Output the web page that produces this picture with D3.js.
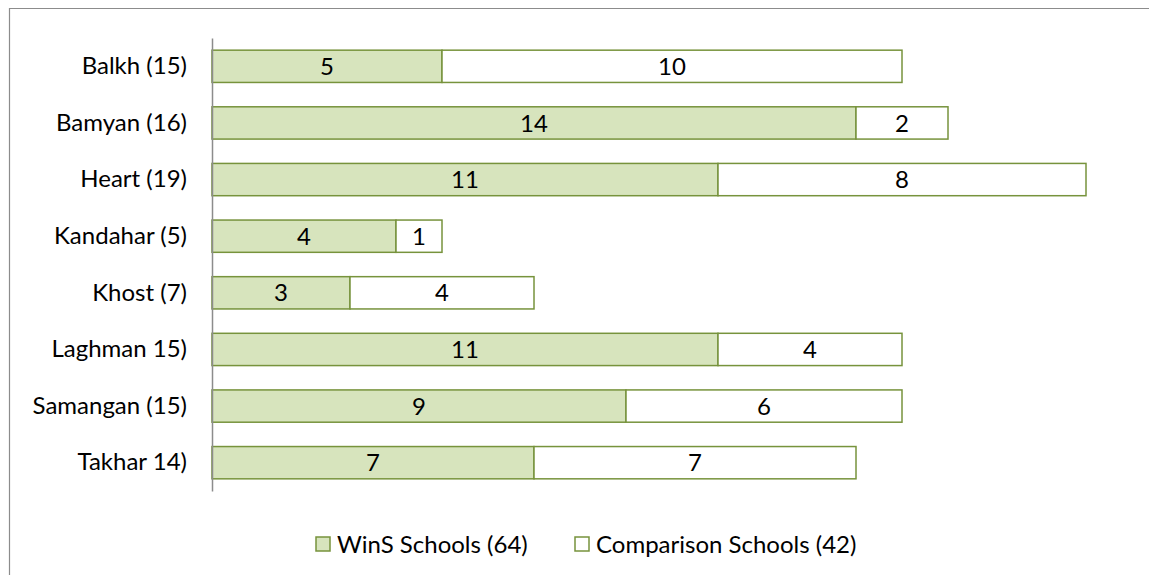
<!DOCTYPE html>
<html lang="en">
<head>
  <meta charset="UTF-8">
  <title>WinS vs Comparison Schools by Province</title>
  <script src="https://d3js.org/d3.v7.min.js"></script>
  <style>
    body { margin: 0; padding: 0; background: #fff; font-family: Lato, "Open Sans", sans-serif; }
    svg { display: block; }
  </style>
</head>
<body>
  <svg width="1149" height="575"></svg>
  <script>
    const width = 1149, height = 575;
    const svg = d3.select("svg");
    const font = "Lato, 'Open Sans', sans-serif";
    const fs = 24;

    const provinces = ["Balkh (15)", "Bamyan (16)", "Heart (19)", "Kandahar (5)", "Khost (7)", "Laghman 15)", "Samangan (15)", "Takhar 14)"];
    const winsSchools = [5, 14, 11, 4, 3, 11, 9, 7];
    const comparisonSchools = [10, 2, 8, 1, 4, 4, 6, 7];
    const seriesNames = ["WinS Schools (64)", "Comparison Schools (42)"];

    const fills = ["#d7e4bd", "#ffffff"];
    const strokeCol = "#77933c";

    // outer frame (only top and left edges visible)
    svg.append("path")
      .attr("d", `M9.5,${height} V8.5 H${width}`)
      .attr("fill", "none")
      .attr("stroke", "#8c8c8c")
      .attr("stroke-width", 1.2);

    const x = d3.scaleLinear().domain([0, 1]).range([212, 258]);
    const y = d3.scaleBand().domain(provinces).range([38, 491]).paddingInner(0.43).paddingOuter(0.215);

    const rows = provinces.map((p, i) => ({ p, a: winsSchools[i], b: comparisonSchools[i] }));

    const segs = [];
    rows.forEach(r => {
      segs.push({ p: r.p, x0: 0, x1: r.a, v: r.a, s: 0 });
      segs.push({ p: r.p, x0: r.a, x1: r.a + r.b, v: r.b, s: 1 });
    });

    svg.append("g").selectAll("rect")
      .data(segs)
      .join("rect")
      .attr("x", d => x(d.x0))
      .attr("y", d => y(d.p))
      .attr("width", d => x(d.x1) - x(d.x0))
      .attr("height", y.bandwidth())
      .attr("fill", d => fills[d.s])
      .attr("stroke", strokeCol)
      .attr("stroke-width", 1.5);

    svg.append("g").selectAll("text")
      .data(segs)
      .join("text")
      .attr("x", d => (x(d.x0) + x(d.x1)) / 2)
      .attr("y", d => y(d.p) + y.bandwidth() / 2)
      .attr("dy", "0.36em")
      .attr("text-anchor", "middle")
      .attr("font-family", font)
      .attr("font-size", fs)
      .attr("fill", "#000")
      .text(d => d.v);

    // category axis
    const axis = svg.append("g")
      .attr("transform", "translate(212,0)")
      .call(d3.axisLeft(y).tickSize(0).tickPadding(25));
    axis.select(".domain").attr("stroke", "#8c8c8c").attr("stroke-width", 1.5);
    axis.selectAll("text")
      .attr("font-size", fs)
      .attr("font-family", font)
      .attr("fill", "#000");

    // legend
    const legendX = [316, 575];
    const legend = svg.append("g");
    seriesNames.forEach((name, i) => {
      legend.append("rect")
        .attr("x", legendX[i]).attr("y", 537)
        .attr("width", 14).attr("height", 14)
        .attr("fill", fills[i])
        .attr("stroke", strokeCol)
        .attr("stroke-width", 1.5);
      legend.append("text")
        .attr("x", legendX[i] + 21).attr("y", 544)
        .attr("dy", "0.36em")
        .attr("font-family", font)
        .attr("font-size", fs)
        .attr("fill", "#000")
        .text(name);
    });
  </script>
</body>
</html>
